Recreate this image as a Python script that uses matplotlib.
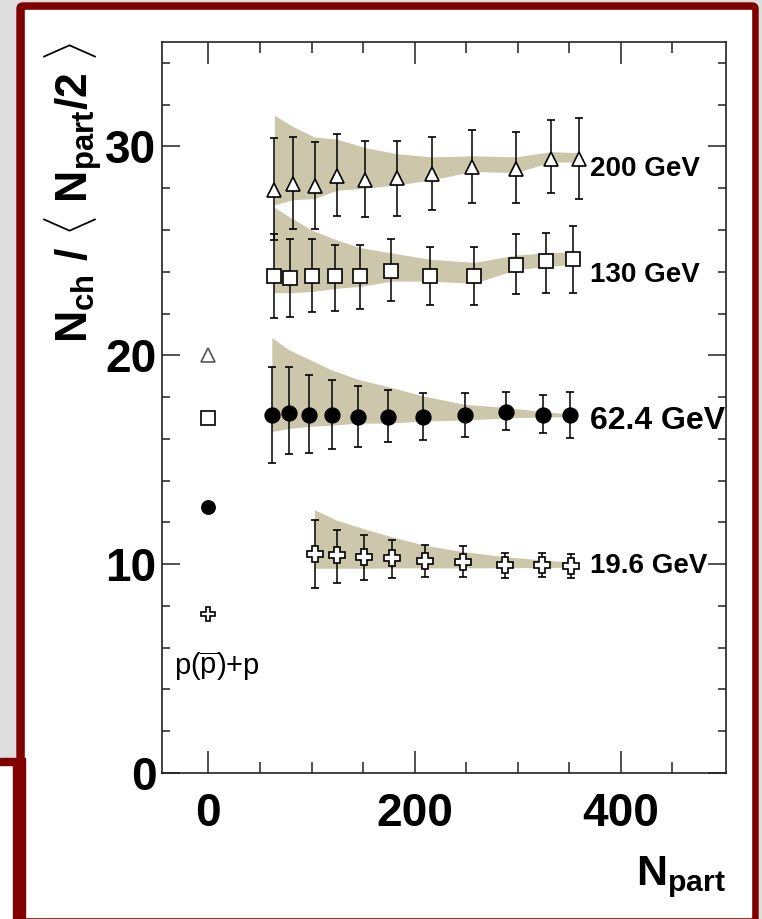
import matplotlib
matplotlib.use("Agg")
import matplotlib.pyplot as plt
from matplotlib.patches import Rectangle, FancyBboxPatch

plt.rcParams['font.family'] = 'Liberation Sans'
plt.rcParams['mathtext.fontset'] = 'custom'
plt.rcParams['mathtext.rm'] = 'Liberation Sans'
plt.rcParams['mathtext.bf'] = 'Liberation Sans:bold'
plt.rcParams['mathtext.it'] = 'Liberation Sans:italic'

# Au+Au 200 GeV
npart_200 = [64, 82, 103, 124.5, 152, 182.5, 216.5, 256, 298.5, 332, 359.5]
nch_200 = [27.9, 28.2, 28.1, 28.6, 28.4, 28.5, 28.7, 29.0, 28.9, 29.4, 29.4]
err_top_200 = [30.4, 30.45, 30.2, 30.6, 30.25, 30.25, 30.45, 30.8, 30.7, 31.25, 31.35]
err_bot_200 = [25.5, 26.05, 26.05, 26.65, 26.6, 26.65, 26.95, 27.3, 27.3, 27.75, 27.5]
band_hi_200 = [31.5, 30.95, 30.45, 30.35, 29.95, 29.65, 29.5, 29.55, 29.5, 29.75, 29.7]
band_lo_200 = [27.2, 27.45, 27.5, 27.9, 28.0, 28.15, 28.4, 28.8, 28.75, 29.25, 29.25]

# Au+Au 130 GeV
npart_130 = [63.5, 79.5, 100, 123, 147.5, 177.5, 214.5, 258, 298.5, 327, 354]
nch_130 = [23.8, 23.7, 23.8, 23.8, 23.8, 24.05, 23.8, 23.8, 24.3, 24.5, 24.6]
err_top_130 = [25.8, 25.55, 25.55, 25.3, 25.3, 25.55, 25.2, 25.2, 25.8, 25.85, 26.2]
err_bot_130 = [21.8, 21.85, 22.05, 22.1, 22.2, 22.6, 22.4, 22.4, 22.95, 23.0, 23.0]
band_hi_130 = [27.1, 26.6, 26.0, 25.55, 25.15, 24.9, 24.6, 24.45, 24.8, 24.9, 24.95]
band_lo_130 = [23.0, 23.0, 23.05, 23.2, 23.3, 23.55, 23.55, 23.45, 24.1, 24.25, 24.35]

# Au+Au 62.4 GeV
npart_62 = [61.5, 78.5, 98, 119.5, 145, 174, 208.5, 248.5, 289, 324.5, 351]
nch_62 = [17.15, 17.25, 17.15, 17.15, 17.05, 17.05, 17.05, 17.15, 17.3, 17.15, 17.15]
err_top_62 = [19.45, 19.45, 19.05, 18.8, 18.55, 18.35, 18.2, 18.2, 18.25, 18.1, 18.25]
err_bot_62 = [14.85, 15.25, 15.3, 15.5, 15.6, 15.85, 15.95, 16.1, 16.4, 16.3, 16.05]
band_hi_62 = [20.85, 20.25, 19.8, 19.3, 18.85, 18.5, 18.05, 17.65, 17.5, 17.3, 17.2]
band_lo_62 = [16.35, 16.5, 16.6, 16.65, 16.75, 16.75, 16.85, 16.9, 17.0, 17.05, 17.05]

# Au+Au 19.6 GeV
npart_19 = [103, 124.5, 150.5, 178.5, 210, 247, 288, 323.5, 352]
nch_19 = [10.5, 10.45, 10.35, 10.3, 10.15, 10.1, 9.95, 9.95, 9.9]
err_top_19 = [12.1, 11.65, 11.4, 11.15, 10.9, 10.85, 10.55, 10.55, 10.5]
err_bot_19 = [8.85, 9.1, 9.25, 9.35, 9.4, 9.4, 9.35, 9.4, 9.35]
band_hi_19 = [12.6, 12.1, 11.7, 11.3, 10.9, 10.6, 10.35, 10.2, 10.1]
band_lo_19 = [9.8, 9.8, 9.8, 9.82, 9.82, 9.82, 9.83, 9.84, 9.85]

# p(pbar)+p reference points
pp_x = 0
pp_200, pp_130, pp_62, pp_19 = 20.0, 17.0, 12.75, 7.6

energy_labels = ['200 GeV', '130 GeV', '62.4 GeV', '19.6 GeV']
label_y = [28.9, 23.85, 16.85, 9.9]
label_size = [20, 20, 23, 20]

band_color = '#ccc6aa'

fig = plt.figure(figsize=(7.62, 9.19), dpi=100)

# slide background / frame
bg = fig.add_axes([0, 0, 1, 1], zorder=-5)
bg.set_xlim(0, 762)
bg.set_ylim(919, 0)
bg.axis('off')
bg.add_patch(Rectangle((0, 0), 762, 919, color='white'))
bg.add_patch(Rectangle((0, 0), 762, 4, color='#dedede'))
bg.add_patch(Rectangle((0, 0), 17, 758, color='#dedede'))
bg.add_patch(Rectangle((757, 0), 5, 919, color='#dedede'))
bg.add_patch(FancyBboxPatch((17, 3), 741, 930, boxstyle='round,pad=0,rounding_size=6',
                            color='#800000'))
bg.add_patch(Rectangle((25, 10), 726, 907, color='white'))
bg.add_patch(Rectangle((0, 758), 25, 7, color='#800000'))
bg.add_patch(Rectangle((13, 765), 12, 154, color='#800000'))

ax = fig.add_axes([0.2126, 0.1589, 0.7402, 0.7954])

series = [
    (npart_200, nch_200, err_top_200, err_bot_200, band_lo_200, band_hi_200, '^', 10.5, 'white'),
    (npart_130, nch_130, err_top_130, err_bot_130, band_lo_130, band_hi_130, 's', 10.5, 'white'),
    (npart_62, nch_62, err_top_62, err_bot_62, band_lo_62, band_hi_62, 'o', 10.5, 'black'),
    (npart_19, nch_19, err_top_19, err_bot_19, band_lo_19, band_hi_19, 'P', 11, 'white'),
]

for x, y, top, bot, lo, hi, m, ms, fc in series:
    ax.fill_between(x, lo, hi, color=band_color, lw=0, zorder=1)
    yerr = [[v - b for v, b in zip(y, bot)], [t - v for v, t in zip(y, top)]]
    ax.errorbar(x, y, yerr=yerr, fmt=m, ms=ms, mfc=fc, mec='black', mew=1.2,
                ecolor='black', elinewidth=1.1, capsize=3, capthick=1.1, zorder=3)

pp_vals = [pp_200, pp_130, pp_62, pp_19]
pp_style = [('^', 10, 'white', '#555555'), ('s', 10.5, 'white', 'black'),
            ('o', 9.5, 'black', 'black'), ('P', 10, 'white', 'black')]
for v, (m, ms, fc, ec) in zip(pp_vals, pp_style):
    ax.plot(pp_x, v, m, ms=ms, mfc=fc, mec=ec, mew=1.2, zorder=3)

for lab, ly, fs in zip(energy_labels, label_y, label_size):
    ax.text(370, ly, lab, fontsize=fs, fontweight='bold', ha='left', va='center', zorder=4)

ax.text(-33, 5.1, r'p($\overline{\mathrm{p}}$)+p', fontsize=21, ha='left', va='center')

ax.set_xlim(-45, 502)
ax.set_ylim(0, 35)
ax.set_xticks([0, 200, 400])
ax.set_xticks(range(50, 500, 50), minor=True)
ax.set_yticks([0, 10, 20, 30])
ax.set_yticks(range(2, 35, 2), minor=True)

ax.tick_params(which='both', direction='in', top=True, right=True, width=1.1, color='#222222')
ax.tick_params(axis='x', which='major', length=16, pad=14, labelsize=33)
ax.tick_params(axis='x', which='minor', length=8)
ax.tick_params(axis='y', which='major', length=13, pad=4, labelsize=33)
ax.tick_params(axis='y', which='minor', length=6)
for lab in ax.get_xticklabels() + ax.get_yticklabels():
    lab.set_fontweight('bold')
for s in ax.spines.values():
    s.set_linewidth(1.2)
    s.set_color('#222222')

ax.set_ylabel(r'$\mathbf{N_{ch}}$ / $\langle$ $\mathbf{N_{part}}$/2 $\rangle$',
              fontsize=32, fontweight='bold', loc='top', labelpad=0)
ax.set_xlabel(r'$\mathbf{N_{part}}$', fontsize=31, loc='right', labelpad=13)

plt.savefig('out.png', dpi=100)
